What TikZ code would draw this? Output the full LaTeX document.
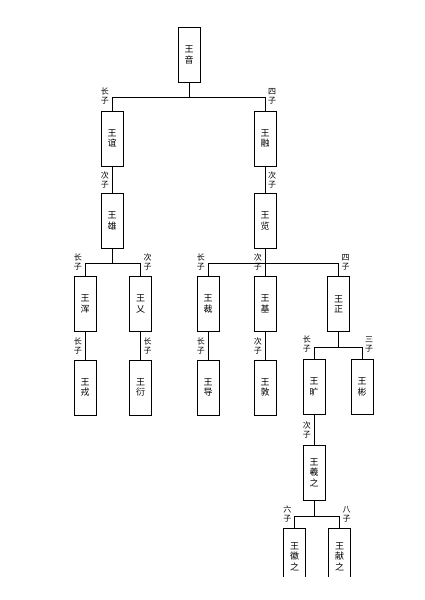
\documentclass[tikz,border=0pt]{standalone}
\usepackage{fontspec}
\newfontfamily\cjk{Noto Sans CJK SC}
\begin{document}
\begin{tikzpicture}[x=1pt,y=-1pt,
  person/.style={draw, line width=0.9pt, minimum width=22pt, minimum height=55pt, inner sep=0pt, align=center, font=\cjk\fontsize{9}{10.5}\selectfont},
  openp/.style={minimum width=22pt, minimum height=55pt, inner sep=0pt, align=center, font=\cjk\fontsize{9}{10.5}\selectfont},
  lab/.style={inner sep=0pt, align=center, font=\cjk\fontsize{8}{9}\selectfont},
  conn/.style={line width=0.9pt}]
\useasboundingbox (0,0) rectangle (425,600);
\fill[white] (0,0) rectangle (425,600);
% people
\node[person] (yin) at (189,55) {王\\音};
\node[person] (yi) at (112,138.5) {王\\谊};
\node[person] (rong) at (265,138.5) {王\\融};
\node[person] (xiong) at (112,221) {王\\雄};
\node[person] (lan) at (265,221) {王\\览};
\node[person] (hun) at (85,304) {王\\浑};
\node[person] (yi2) at (140.5,304) {王\\乂};
\node[person] (cai) at (208,304) {王\\裁};
\node[person] (ji) at (265,304) {王\\基};
\node[person] (zheng) at (338.5,304) {王\\正};
\node[person] (rong2) at (85,387.5) {王\\戎};
\node[person] (yan) at (140.5,387.5) {王\\衍};
\node[person] (dao) at (208,387.5) {王\\导};
\node[person] (dun) at (265,387.5) {王\\敦};
\node[person] (kuang) at (314,387) {王\\旷};
\node[person] (bin) at (362,387) {王\\彬};
\node[person] (xizhi) at (314,472.5) {王\\羲\\之};
\node[openp] (huizhi) at (294.5,556.5) {王\\徽\\之};
\node[openp] (xianzhi) at (339.5,556.5) {王\\献\\之};
\draw[conn] (huizhi.west |- 0,577) -- (huizhi.north west) -- (huizhi.north east) -- (huizhi.east |- 0,577);
\draw[conn] (xianzhi.west |- 0,577) -- (xianzhi.north west) -- (xianzhi.north east) -- (xianzhi.east |- 0,577);
% branch points
\coordinate (b1) at (189,97);
\coordinate (b2) at (112,263);
\coordinate (b3) at (265,263);
\coordinate (b4) at (338.5,347);
\coordinate (b5) at (314,516);
% connectors
\draw[conn] (yin.south) -- (b1);
\draw[conn] (yi.north) -- (yi.north |- b1) -- (rong.north |- b1) -- (rong.north);
\draw[conn] (yi.south) -- (xiong.north);
\draw[conn] (rong.south) -- (lan.north);
\draw[conn] (xiong.south) -- (b2);
\draw[conn] (hun.north) -- (hun.north |- b2) -- (yi2.north |- b2) -- (yi2.north);
\draw[conn] (lan.south) -- (ji.north);
\draw[conn] (cai.north) -- (cai.north |- b3) -- (zheng.north |- b3) -- (zheng.north);
\draw[conn] (hun.south) -- (rong2.north);
\draw[conn] (yi2.south) -- (yan.north);
\draw[conn] (cai.south) -- (dao.north);
\draw[conn] (ji.south) -- (dun.north);
\draw[conn] (zheng.south) -- (b4);
\draw[conn] (kuang.north) -- (kuang.north |- b4) -- (bin.north |- b4) -- (bin.north);
\draw[conn] (kuang.south) -- (xizhi.north);
\draw[conn] (xizhi.south) -- (b5);
\draw[conn] (huizhi.north) -- (huizhi.north |- b5) -- (xianzhi.north |- b5) -- (xianzhi.north);
% labels
\node[lab, anchor=east] (l1) at (109,96) {长\\子};
\node[lab, anchor=west] (l2) at (268,96) {四\\子};
\node[lab, anchor=east] (l3) at (109,180) {次\\子};
\node[lab, anchor=west] (l4) at (268,180) {次\\子};
\node[lab, anchor=east] (l5) at (82,262) {长\\子};
\node[lab, anchor=west] (l6) at (143.5,262) {次\\子};
\node[lab, anchor=east] (l7) at (205,262) {长\\子};
\node[lab, anchor=east] (l8) at (262,262) {次\\子};
\node[lab, anchor=west] (l9) at (341.5,262) {四\\子};
\node[lab, anchor=east] (l10) at (82,346) {长\\子};
\node[lab, anchor=west] (l11) at (143.5,346) {长\\子};
\node[lab, anchor=east] (l12) at (205,346) {长\\子};
\node[lab, anchor=east] (l13) at (262,346) {次\\子};
\node[lab, anchor=east] (l14) at (311,344) {长\\子};
\node[lab, anchor=west] (l15) at (365,344) {三\\子};
\node[lab, anchor=east] (l16) at (311,430) {次\\子};
\node[lab, anchor=east] (l17) at (291.5,514) {六\\子};
\node[lab, anchor=west] (l18) at (342.5,514) {八\\子};
\end{tikzpicture}
\end{document}
